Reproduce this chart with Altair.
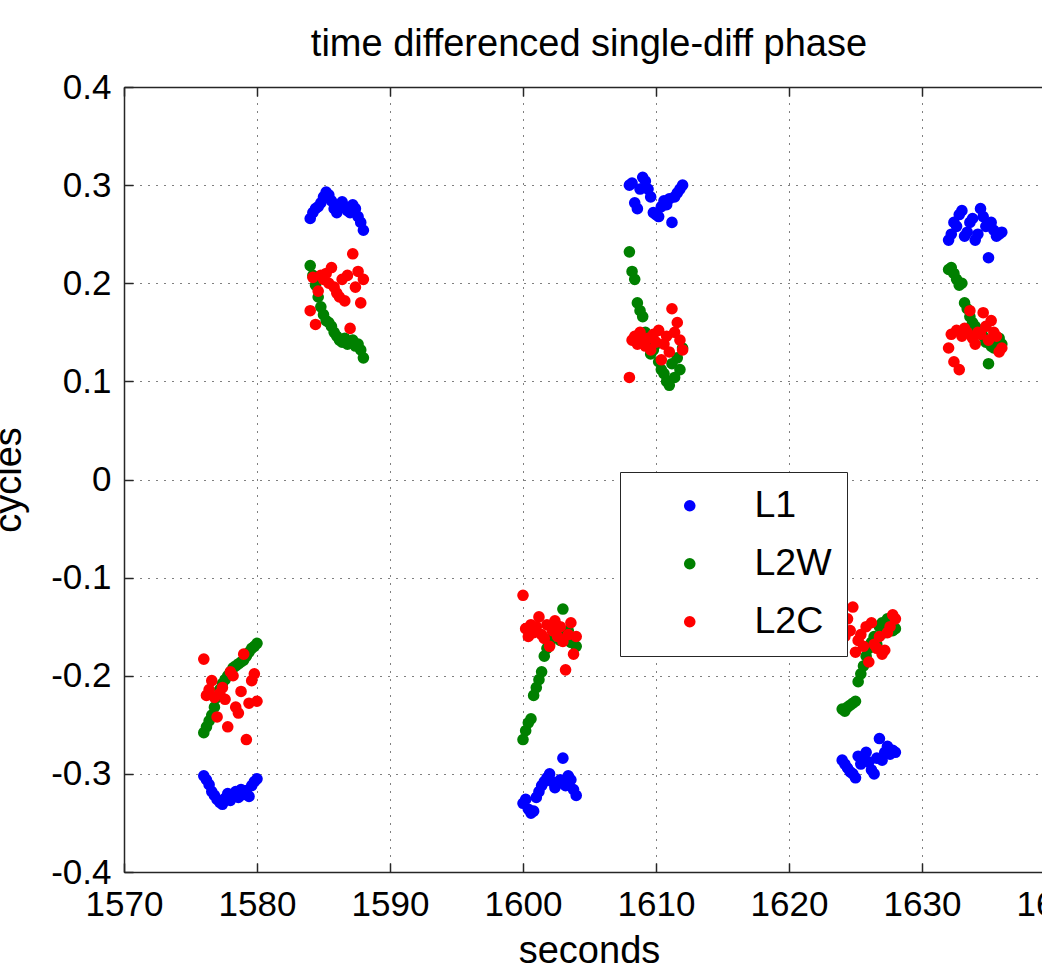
import altair as alt
import pandas as pd

TITLE = "time differenced single-diff phase"
X_TITLE = "seconds"
Y_TITLE = "cycles"
SERIES = ["L1", "L2W", "L2C"]
COLORS = ["#0000ff", "#008000", "#ff0000"]
X_TICKS = [1570, 1580, 1590, 1600, 1610, 1620, 1630, 1640]
Y_TICKS = [-0.4, -0.3, -0.2, -0.1, 0, 0.1, 0.2, 0.3, 0.4]

BURST_START = [1576, 1584, 1600, 1608, 1624, 1632]
BURST_OFFSET = [0.0, 0.2, 0.4, 0.6, 0.8, 1.0, 1.2, 1.4, 1.6, 1.8, 2.0,
                2.2, 2.4, 2.6, 2.8, 3.0, 3.2, 3.4, 3.6, 3.8, 4.0]

L1 = [
    [-0.302, -0.306, -0.311, -0.318, -0.322, -0.326, -0.329, -0.331, -0.325, -0.320, -0.327,
     -0.322, -0.318, -0.324, -0.316, -0.321, -0.317, -0.323, -0.312, -0.308, -0.305],
    [0.266, 0.272, 0.276, 0.278, 0.282, 0.288, 0.293, 0.290, 0.284, 0.276, 0.272,
     0.280, 0.283, 0.278, 0.274, 0.272, 0.280, 0.276, 0.268, 0.262, 0.254],
    [-0.330, -0.326, -0.336, -0.340, -0.338, -0.324, -0.318, -0.312, -0.308, -0.304, -0.300,
     -0.308, -0.314, -0.310, -0.306, -0.284, -0.312, -0.302, -0.306, -0.316, -0.322],
    [0.300, 0.302, 0.282, 0.276, 0.296, 0.308, 0.304, 0.296, 0.288, 0.272, 0.270,
     0.268, 0.278, 0.284, 0.280, 0.286, 0.262, 0.288, 0.292, 0.296, 0.300],
    [-0.286, -0.290, -0.294, -0.298, -0.300, -0.304, -0.282, -0.290, -0.284, -0.278, -0.288,
     -0.296, -0.300, -0.284, -0.264, -0.286, -0.278, -0.272, -0.280, -0.276, -0.278],
    [0.244, 0.250, 0.262, 0.258, 0.270, 0.274, 0.248, 0.252, 0.262, 0.266, 0.244,
     0.250, 0.276, 0.268, 0.258, 0.226, 0.262, 0.254, 0.248, 0.250, 0.252],
]

L2W = [
    [-0.258, -0.252, -0.246, -0.240, -0.232, -0.222, -0.214, -0.208, -0.204, -0.200, -0.196,
     -0.192, -0.190, -0.188, -0.186, -0.184, -0.180, -0.176, -0.172, -0.170, -0.167],
    [0.218, 0.208, 0.198, 0.186, 0.176, 0.168, 0.162, 0.160, 0.156, 0.150, 0.146,
     0.142, 0.140, 0.144, 0.138, 0.140, 0.142, 0.136, 0.138, 0.132, 0.124],
    [-0.265, -0.256, -0.248, -0.244, -0.220, -0.212, -0.204, -0.196, -0.180, -0.172, -0.168,
     -0.160, -0.156, -0.150, -0.164, -0.132, -0.158, -0.154, -0.166, -0.162, -0.170],
    [0.232, 0.212, 0.204, 0.180, 0.172, 0.166, 0.150, 0.140, 0.128, 0.132, 0.138,
     0.120, 0.112, 0.108, 0.100, 0.096, 0.118, 0.104, 0.124, 0.112, 0.134],
    [-0.234, -0.236, -0.232, -0.230, -0.228, -0.226, -0.206, -0.198, -0.190, -0.180, -0.172,
     -0.166, -0.160, -0.168, -0.150, -0.146, -0.156, -0.142, -0.150, -0.154, -0.152],
    [0.214, 0.216, 0.210, 0.204, 0.198, 0.200, 0.180, 0.174, 0.166, 0.160, 0.156,
     0.150, 0.152, 0.146, 0.140, 0.118, 0.136, 0.134, 0.140, 0.144, 0.138],
]

L2C = [
    [-0.183, -0.220, -0.214, -0.205, -0.222, -0.242, -0.218, -0.212, -0.224, -0.252, -0.196,
     -0.200, -0.232, -0.238, -0.216, -0.178, -0.265, -0.228, -0.205, -0.198, -0.226],
    [0.172, 0.206, 0.158, 0.192, 0.208, 0.204, 0.210, 0.200, 0.216, 0.196, 0.190,
     0.186, 0.204, 0.182, 0.208, 0.154, 0.230, 0.196, 0.212, 0.180, 0.204],
    [-0.118, -0.152, -0.160, -0.148, -0.156, -0.150, -0.140, -0.158, -0.162, -0.148, -0.170,
     -0.154, -0.144, -0.160, -0.150, -0.165, -0.194, -0.158, -0.146, -0.178, -0.160],
    [0.104, 0.142, 0.146, 0.138, 0.150, 0.140, 0.136, 0.144, 0.132, 0.148, 0.140,
     0.152, 0.122, 0.138, 0.146, 0.130, 0.174, 0.150, 0.160, 0.142, 0.132],
    [-0.150, -0.160, -0.142, -0.154, -0.130, -0.176, -0.164, -0.158, -0.170, -0.150, -0.186,
     -0.146, -0.168, -0.172, -0.160, -0.178, -0.174, -0.156, -0.150, -0.138, -0.142],
    [0.134, 0.148, 0.120, 0.152, 0.112, 0.146, 0.154, 0.150, 0.172, 0.144, 0.138,
     0.150, 0.148, 0.170, 0.156, 0.142, 0.162, 0.150, 0.146, 0.130, 0.134],
]

rows = []
for name, groups in zip(SERIES, [L1, L2W, L2C]):
    for start, ys in zip(BURST_START, groups):
        for off, y in zip(BURST_OFFSET, ys):
            rows.append({"t": round(start + off, 2), "v": y, "series": name})
df = pd.DataFrame(rows)

FONT = "Liberation Sans"
LINE = "#262626"
W = 918          # visible part of the plot area
FULL_W = 931     # full plot width (right edge falls outside the window)
H = 785

x_scale = alt.Scale(domain=[1570, 1640], range=[0, FULL_W], nice=False, zero=False)
y_scale = alt.Scale(domain=[-0.4, 0.4], nice=False, zero=False)

y_label_expr = ("datum.value == 0 ? '0' : (datum.value < 0 ? '-' : '') + "
                "format(abs(datum.value), '.1f')")

base = alt.Chart(df)

main = base.mark_circle(size=135, opacity=1).encode(
    x=alt.X("t:Q", scale=x_scale, axis=alt.Axis(
        orient="bottom", values=X_TICKS, format="d", title=X_TITLE,
        grid=True, gridDash=[1, 7], gridColor="#000", gridWidth=1, gridOpacity=1,
        ticks=False, tickSize=0, domain=True, domainColor=LINE, domainWidth=1.5,
        labelFont=FONT, labelFontSize=35, labelColor="#000", labelPadding=15,
        labelFlush=False, labelOverlap=False,
        titleFont=FONT, titleFontSize=38, titleFontWeight="normal", titleColor="#000",
        titlePadding=10, titleX=465)),
    y=alt.Y("v:Q", scale=y_scale, axis=alt.Axis(
        orient="left", values=Y_TICKS, labelExpr=y_label_expr, title=Y_TITLE,
        grid=True, gridDash=[1, 7], gridColor="#000", gridWidth=1, gridOpacity=1,
        ticks=False, tickSize=0, domain=True, domainColor=LINE, domainWidth=1.5,
        labelFont=FONT, labelFontSize=35, labelColor="#000", labelPadding=13,
        labelFlush=False, labelOverlap=False,
        titleFont=FONT, titleFontSize=38, titleFontWeight="normal", titleColor="#000",
        titlePadding=22)),
    color=alt.Color("series:N", scale=alt.Scale(domain=SERIES, range=COLORS),
                    legend=alt.Legend(
                        orient="none", legendX=496, legendY=385, title=None,
                        fillColor="white", strokeColor=LINE, padding=15,
                        symbolType="circle", symbolSize=135, symbolOffset=36,
                        symbolStrokeWidth=0, symbolOpacity=1,
                        labelOffset=46, labelFont=FONT, labelFontSize=37.5,
                        labelColor="#000", rowPadding=19)),
)

bottom_ticks = base.mark_circle(opacity=0).encode(
    x=alt.X("t:Q", scale=x_scale, axis=alt.Axis(
        orient="bottom", values=X_TICKS, offset=-9, labels=False, domain=False,
        grid=False, ticks=True, tickSize=9, tickColor=LINE, tickWidth=1.5, title=None)),
    y=alt.Y("v:Q", scale=y_scale, axis=alt.Axis(
        orient="left", values=Y_TICKS, offset=-9, labels=False, domain=False,
        grid=False, ticks=True, tickSize=9, tickColor=LINE, tickWidth=1.5, title=None)),
)

top_line = base.mark_circle(opacity=0).encode(
    x=alt.X("t:Q", scale=x_scale, axis=alt.Axis(
        orient="top", values=X_TICKS, labels=False, domain=True, domainColor=LINE,
        domainWidth=1.5, grid=False, ticks=False, title=None)),
    y=alt.Y("v:Q", scale=y_scale, axis=None),
)

top_ticks = base.mark_circle(opacity=0).encode(
    x=alt.X("t:Q", scale=x_scale, axis=alt.Axis(
        orient="top", values=X_TICKS, offset=-9, labels=False, domain=False,
        grid=False, ticks=True, tickSize=9, tickColor=LINE, tickWidth=1.5, title=None)),
    y=alt.Y("v:Q", scale=y_scale, axis=None),
)

chart = alt.layer(main, bottom_ticks, top_line, top_ticks).resolve_axis(
    x="independent", y="independent"
).properties(
    width=W, height=H,
    title=alt.TitleParams(TITLE, font=FONT, fontSize=38, fontWeight="normal",
                          color="#000", anchor="middle", baseline="alphabetic",
                          offset=30, dx=6, dy=54),
    autosize=alt.AutoSizeParams(type="none"),
    padding={"left": 124, "top": 87, "right": 0, "bottom": 95},
).configure_view(strokeWidth=0).configure(background="white")

chart.save("out.html", embed_options={"renderer": "svg", "actions": False})
